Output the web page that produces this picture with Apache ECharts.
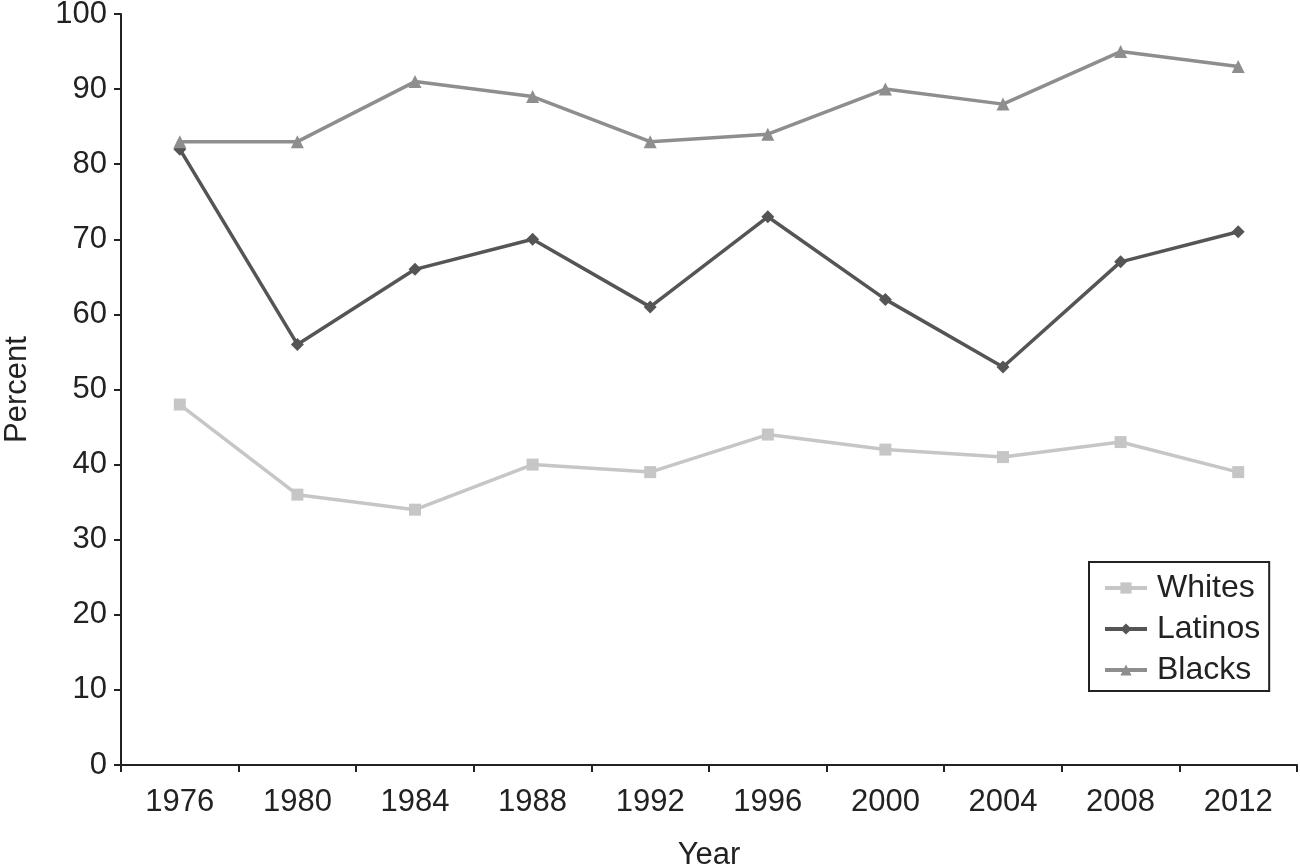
<!DOCTYPE html>
<html><head><meta charset="utf-8">
<script src="https://cdn.jsdelivr.net/npm/echarts@6/dist/echarts.min.js"></script>
<style>html,body{margin:0;padding:0;background:#fff}#c{width:1300px;height:864px}</style>
</head><body><div id="c"></div>
<script>
const years = ['1976','1980','1984','1988','1992','1996','2000','2004','2008','2012'];
const whites = [48, 36, 34, 40, 39, 44, 42, 41, 43, 39];
const latinos = [82, 56, 66, 70, 61, 73, 62, 53, 67, 71];
const blacks = [83, 83, 91, 89, 83, 84, 90, 88, 95, 93];

const chart = echarts.init(document.getElementById('c'));
const font = 'Liberation Sans, Arial, sans-serif';
function s(name, data, color, symbol, size) {
  return {name, type:'line', data, symbol, symbolSize:size,
    lineStyle:{color, width:3.5}, itemStyle:{color}, color};
}
chart.setOption({
  animation:false,
  textStyle:{fontFamily:font},
  grid:{left:121, right:3, top:14, bottom:99, outerBoundsMode:'none', containLabel:false},
  legend:{orient:'vertical', left:1089, top:562,
    borderColor:'#222', borderWidth:2, padding:[10,9,5,14], itemGap:9,
    itemWidth:42, itemHeight:14,
    lineStyle:{width:4},
    textStyle:{fontSize:32, color:'#222', fontFamily:font, padding:[0,0,0,5]},
    data:['Whites','Latinos','Blacks']},
  xAxis:{type:'category', data:years, boundaryGap:true,
    name:'Year', nameLocation:'middle', nameGap:75,
    nameTextStyle:{fontSize:31, color:'#222'},
    axisLine:{lineStyle:{color:'#222', width:2}},
    axisTick:{show:true, length:7, lineStyle:{color:'#222', width:2}},
    axisLabel:{fontSize:31, color:'#222', margin:22}},
  yAxis:{type:'value', min:0, max:100, interval:10,
    name:'Percent', nameLocation:'middle', nameGap:88, nameRotate:90,
    nameTextStyle:{fontSize:31, color:'#222'},
    axisLine:{show:true, lineStyle:{color:'#222', width:2}},
    axisTick:{show:true, length:7, lineStyle:{color:'#222', width:2}},
    splitLine:{show:false},
    axisLabel:{fontSize:31, color:'#222', margin:14}},
  series:[
    s('Whites', whites, '#c6c6c6', 'rect', 12),
    s('Latinos', latinos, '#555555', 'diamond', 13),
    s('Blacks', blacks, '#8e8e8e', 'triangle', 13)
  ]
});
</script></body></html>
